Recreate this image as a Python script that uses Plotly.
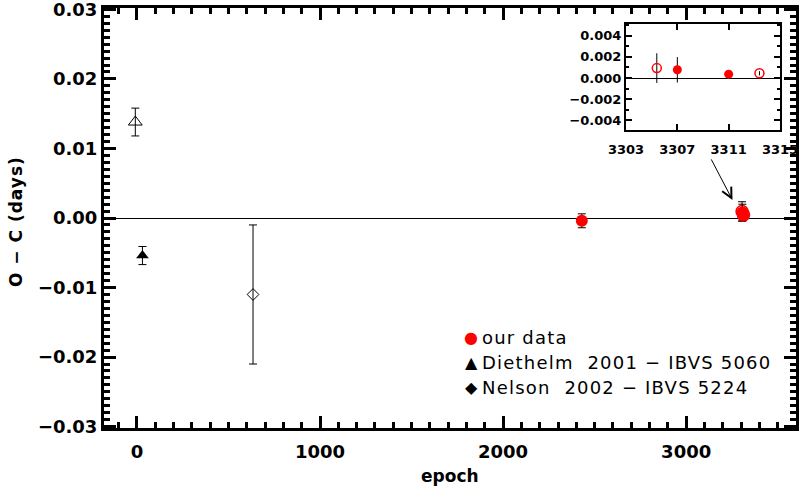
import plotly.graph_objects as go

# ---------------- data ----------------
# our data (filled symbols)
ours_epoch = [2430, 3307, 3311]
ours_oc = [-0.0004, 0.00078, 0.00037]
ours_err = [0.0010, 0.0012, 0.0003]
# our data (open symbols)
ours_open_epoch = [3305.4, 3313.4]
ours_open_oc = [0.00094, 0.00045]
ours_open_err = [0.0014, 0.0002]
# Diethelm 2001 - IBVS 5060
dieth_epoch = [30]
dieth_oc = [-0.0054]
dieth_err = [0.0013]
# open triangle
tri_open_epoch = [-9]
tri_open_oc = [0.0138]
tri_open_err = [0.0020]
# Nelson 2002 - IBVS 5224
nelson_epoch = [634]
nelson_oc = [-0.0110]
nelson_err = [0.0100]

legend_labels = ["our data", "Diethelm  2001 \u2212 IBVS 5060", "Nelson  2002 \u2212 IBVS 5224"]
legend_glyphs = ["\u25CF", "\u25B2", "\u25C6"]
legend_colors = ["red", "black", "black"]

x_title = "epoch"
y_title = "O \u2212 C (days)"

# ---------------- layout geometry ----------------
W, H = 802, 490
ML, MR, MT, MB = 104, 6, 8, 62
PW, PH = W - ML - MR, H - MT - MB


def px_x(px):
    return (px - ML) / PW


def px_y(py):
    return (H - MB - py) / PH


FONT = "DejaVu Sans"

fig = go.Figure()


def err(vals, width, thick=1):
    return dict(type="data", array=vals, visible=True, color="black",
                thickness=thick, width=width)


# ---- main panel ----
fig.add_trace(go.Scatter(x=tri_open_epoch, y=tri_open_oc, mode="markers",
                         marker=dict(symbol="triangle-up-open", size=12, color="black",
                                     line=dict(width=1, color="black")),
                         error_y=err(tri_open_err, 4), showlegend=False))
fig.add_trace(go.Scatter(x=dieth_epoch, y=dieth_oc, mode="markers",
                         marker=dict(symbol="triangle-up", size=11, color="black"),
                         error_y=err(dieth_err, 4), showlegend=False))
fig.add_trace(go.Scatter(x=nelson_epoch, y=nelson_oc, mode="markers",
                         marker=dict(symbol="diamond-open", size=9, color="black",
                                     line=dict(width=1, color="black")),
                         error_y=err(nelson_err, 4), showlegend=False))
fig.add_trace(go.Scatter(x=ours_open_epoch, y=ours_open_oc, mode="markers",
                         marker=dict(symbol="circle-open", size=12, color="red",
                                     line=dict(width=1.5, color="red")),
                         error_y=err(ours_open_err, 4), showlegend=False))
fig.add_trace(go.Scatter(x=ours_epoch, y=ours_oc, mode="markers",
                         marker=dict(symbol="circle", size=12, color="red"),
                         error_y=err(ours_err, 4), showlegend=False))

# ---- inset ----
fig.add_trace(go.Scatter(x=ours_open_epoch, y=ours_open_oc, mode="markers",
                         xaxis="x2", yaxis="y2",
                         marker=dict(symbol="circle-open", size=9, color="red",
                                     line=dict(width=1.5, color="red")),
                         error_y=err(ours_open_err, 0), showlegend=False))
fig.add_trace(go.Scatter(x=ours_epoch, y=ours_oc, mode="markers",
                         xaxis="x2", yaxis="y2",
                         marker=dict(symbol="circle", size=9, color="red"),
                         error_y=err(ours_err, 0), showlegend=False))

tickfont = dict(family=FONT, size=18, color="black", weight="bold")
axcommon = dict(showline=True, linewidth=3, linecolor="black", mirror="ticks",
                ticks="inside", tickwidth=2.5, tickcolor="black", showgrid=False,
                tickfont=tickfont, automargin=False, ticklabeloverflow="allow")
insetfont = dict(family=FONT, size=13, color="black", weight="bold")
insetcommon = dict(showline=True, linewidth=2, linecolor="black", mirror="ticks",
                   ticks="inside", tickwidth=1.5, tickcolor="black", showgrid=False,
                   tickfont=insetfont, automargin=False, ticklabeloverflow="allow")

fig.update_layout(
    width=W, height=H,
    margin=dict(l=ML, r=MR, t=MT, b=MB, autoexpand=False),
    paper_bgcolor="white", plot_bgcolor="white",
    showlegend=False,
    xaxis=dict(range=[-180, 3600], dtick=1000, tick0=0, ticklen=12,
               zeroline=False,
               minor=dict(dtick=100, ticklen=6, tickwidth=2.5, ticks="inside",
                          tickcolor="black"),
               ticklabelstandoff=5,
               **axcommon),
    yaxis=dict(range=[-0.0302, 0.0302], dtick=0.01, tick0=0, ticklen=12,
               tickformat=".2f",
               zeroline=True, zerolinewidth=1, zerolinecolor="black",
               minor=dict(dtick=0.001, ticklen=6, tickwidth=2.5, ticks="inside",
                          tickcolor="black"),
               ticklabelstandoff=0,
               **axcommon),
    xaxis2=dict(domain=[px_x(626), px_x(780)], anchor="y2", range=[3303, 3315],
                dtick=4, tick0=3303, ticklen=6, zeroline=False,
                ticklabelstandoff=6, **insetcommon),
    yaxis2=dict(domain=[px_y(130), px_y(24)], anchor="x2", range=[-0.0049, 0.0051],
                dtick=0.002, tick0=0, ticklen=6, tickformat=".3f",
                zeroline=True, zerolinewidth=1, zerolinecolor="black",
                minor=dict(dtick=0.001, ticklen=3, tickwidth=1.5, ticks="inside",
                           tickcolor="black"),
                **insetcommon),
)

# ---- axis titles (as annotations for exact placement) ----
title_font = dict(family=FONT, size=17, weight="bold", color="black")
fig.add_annotation(xref="paper", yref="paper", x=px_x(450), y=px_y(476),
                   text=x_title, showarrow=False, xanchor="center", yanchor="middle",
                   font=title_font)
fig.add_annotation(xref="paper", yref="paper", x=px_x(16), y=px_y(222),
                   text='<span style="letter-spacing:1px">' + y_title + '</span>',
                   showarrow=False, xanchor="center", yanchor="middle",
                   textangle=-90, font=title_font)

# ---- legend (text annotations) ----
legend_rows_px = [337, 362, 387]
for lab, gly, col, ypx in zip(legend_labels, legend_glyphs, legend_colors, legend_rows_px):
    fig.add_annotation(xref="paper", yref="paper", x=px_x(471), y=px_y(ypx),
                       text=gly, showarrow=False, xanchor="center", yanchor="middle",
                       font=dict(family=FONT, size=16, color=col))
    fig.add_annotation(xref="paper", yref="paper", x=px_x(480), y=px_y(ypx),
                       text='<span style="letter-spacing:1.2px">' + lab + '</span>',
                       showarrow=False, xanchor="left", yanchor="middle",
                       font=dict(family=FONT, size=18, color="black"))

# ---- arrow pointing to the zoomed cluster ----
arrow_head_epoch, arrow_head_oc = 3253, 0.0026
fig.add_annotation(x=arrow_head_epoch, y=arrow_head_oc, xref="x", yref="y",
                   ax=-22, ay=-42, showarrow=True, arrowhead=5, arrowsize=2,
                   arrowwidth=1, arrowcolor="black", text="")

fig.write_html("out.html",
               config={"displayModeBar": False},
               post_script="document.body.style.margin='0';"
                           "document.body.style.padding='0';"
                           "document.body.style.overflow='hidden';")
